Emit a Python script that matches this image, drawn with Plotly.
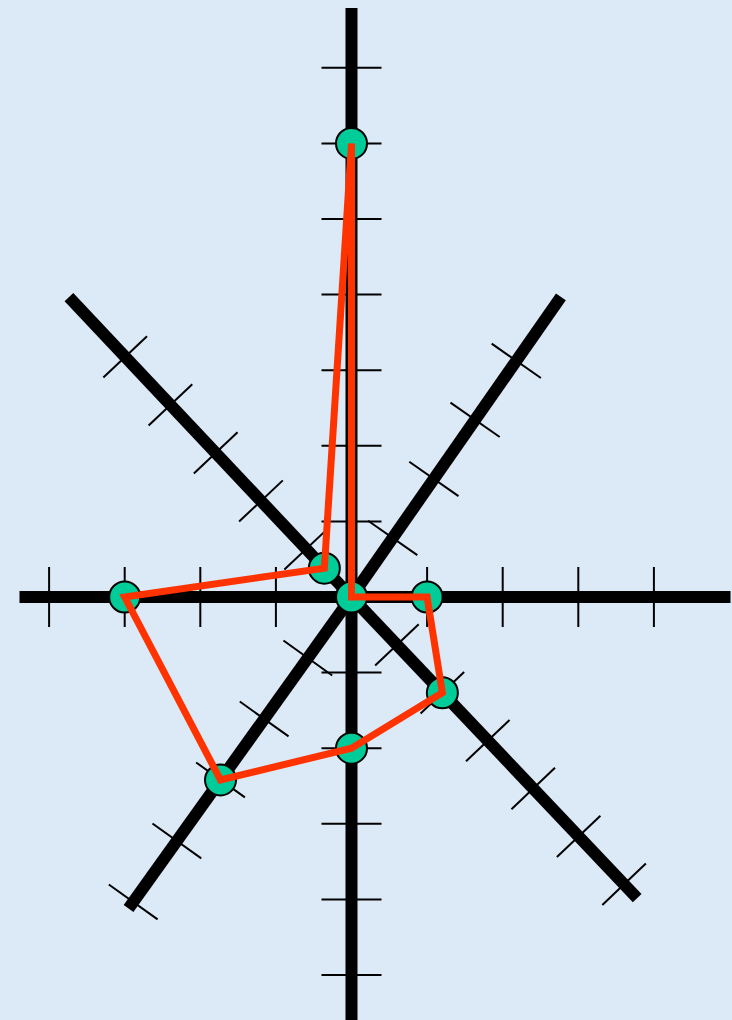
import math
import plotly.graph_objects as go

# ---- data (values in tick units along each spoke) ----
spokes = ["N", "NW", "W", "SW", "S", "SE", "E", "NE"]
values = [6, 0.6, 3, 3, 2, 2, 1, 0]
tick_counts = [7, 5, 4, 5, 5, 6, 4, 4]

# ---- spoke geometry (layout) ----
angles_deg = [90, 133.3, 180, 234.4, 270, 313.5, 0, 55.1]
unit_px = [75.6, 66, 75.6, 75, 75.6, 66, 75.6, 72]
axis_len_px = [589, 412, 332, 383, 430, 415, 379, 366]

TICK_HALF = 30

def polar(d, ang):
    a = math.radians(ang)
    return d * math.cos(a), d * math.sin(a)

# spokes (thick black axes)
ax_x, ax_y = [], []
for ang, L in zip(angles_deg, axis_len_px):
    ex, ey = polar(L, ang)
    ax_x += [0, ex, None]
    ax_y += [0, ey, None]

# tick marks perpendicular to each spoke
tk_x, tk_y = [], []
for ang, u, n in zip(angles_deg, unit_px, tick_counts):
    a = math.radians(ang)
    px, py = -math.sin(a), math.cos(a)
    for k in range(1, n + 1):
        cx, cy = polar(k * u, ang)
        tk_x += [cx - TICK_HALF * px, cx + TICK_HALF * px, None]
        tk_y += [cy - TICK_HALF * py, cy + TICK_HALF * py, None]

# data points
pt_x, pt_y = [], []
for v, ang, u in zip(values, angles_deg, unit_px):
    x, y = polar(v * u, ang)
    pt_x.append(x)
    pt_y.append(y)

fig = go.Figure()
fig.add_trace(go.Scatter(x=tk_x, y=tk_y, mode="lines",
                         line=dict(color="black", width=2), hoverinfo="skip"))
fig.add_trace(go.Scatter(x=ax_x, y=ax_y, mode="lines",
                         line=dict(color="black", width=12), hoverinfo="skip"))
fig.add_trace(go.Scatter(x=pt_x, y=pt_y, mode="markers", text=spokes,
                         marker=dict(size=31, color="#00CC99",
                                     line=dict(color="black", width=2))))
fig.add_trace(go.Scatter(x=pt_x + [pt_x[0]], y=pt_y + [pt_y[0]], mode="lines",
                         line=dict(color="#FF3300", width=7), hoverinfo="skip"))

fig.update_layout(
    width=732, height=1020, autosize=False,
    margin=dict(l=0, r=0, t=0, b=0),
    paper_bgcolor="#dce9f6", plot_bgcolor="#dce9f6",
    showlegend=False,
    xaxis=dict(visible=False, range=[-351.5, 380.5], fixedrange=True),
    yaxis=dict(visible=False, range=[-423, 597], fixedrange=True),
)

fig.write_html(
    "out.html",
    config={"displayModeBar": False},
    post_script="document.body.style.margin='0';document.body.style.background='#dce9f6';",
)
